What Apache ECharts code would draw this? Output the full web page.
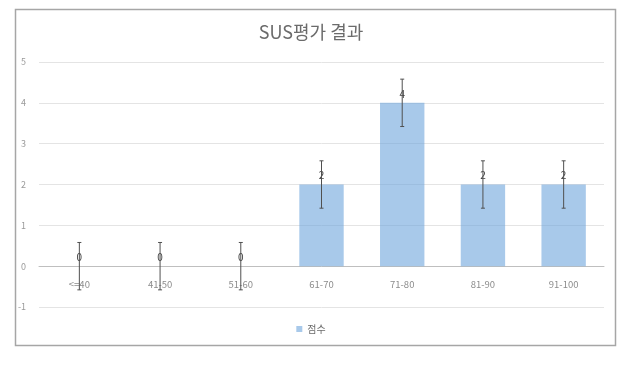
<!DOCTYPE html>
<html><head><meta charset="utf-8">
<script src="https://cdn.jsdelivr.net/npm/echarts@6/dist/echarts.min.js"></script>
<style>html,body{margin:0;padding:0;background:#fff}#c{width:622px;height:366px}</style>
</head><body><div id="c"></div>
<script>
const categories = ['<=40', '41-50', '51-60', '61-70', '71-80', '81-90', '91-100'];
const scores = [0, 0, 0, 2, 4, 2, 2];
const errorAmounts = [0.58, 0.58, 0.58, 0.58, 0.58, 0.58, 0.58];
const yTicks = { min: -1, max: 5, interval: 1 };
const seriesName = '점수';
const titleText = 'SUS평가 결과';

const font = '"Noto Sans CJK KR", "Noto Sans", sans-serif';
const chart = echarts.init(document.getElementById('c'), null, { renderer: 'canvas' });
const errData = scores.map((v, i) => [i, v - errorAmounts[i], v + errorAmounts[i]]);

const gridTop = 62, gridBottom = 59, H = 366;
const gridH = H - gridTop - gridBottom;
const zeroOffset = -gridH * (0 - yTicks.min) / (yTicks.max - yTicks.min);

chart.setOption({
  animation: false,
  backgroundColor: '#fff',
  title: {
    text: titleText, left: 'center', top: 18,
    textStyle: { fontFamily: font, fontSize: 18, fontWeight: 'normal', color: '#6b6b6b' }
  },
  graphic: [{
    type: 'rect', left: 13, top: 7, z: -1,
    shape: { width: 600, height: 336 },
    style: { fill: 'none', stroke: '#a6a6a6', lineWidth: 1.5 }
  }],
  legend: {
    data: [seriesName], bottom: 27, left: 'center', icon: 'rect', itemWidth: 6, itemHeight: 6, itemGap: 4,
    textStyle: { fontFamily: font, fontSize: 10, color: '#6b6b6b' }
  },
  grid: { left: 39, right: 18, top: gridTop, bottom: gridBottom },
  xAxis: {
    type: 'category', data: categories, offset: zeroOffset,
    axisLine: { onZero: false, lineStyle: { color: '#bfbfbf', width: 1 } },
    axisTick: { show: false },
    axisLabel: { fontFamily: font, fontSize: 9.5, color: '#8c8c8c', margin: 13 }
  },
  yAxis: {
    type: 'value', min: yTicks.min, max: yTicks.max, interval: yTicks.interval,
    axisLine: { show: false }, axisTick: { show: false },
    axisLabel: { fontFamily: font, fontSize: 9, color: '#9a9a9a', margin: 13 },
    splitLine: { lineStyle: { color: '#e4e4e4', width: 1 } }
  },
  series: [{
    name: seriesName, type: 'bar', data: scores, barWidth: '55%',
    itemStyle: { color: 'rgba(110,165,220,0.6)' },
    label: { show: true, position: 'top', distance: 4, fontFamily: font, fontSize: 10, color: '#404040' },
    z: 2
  }, {
    name: 'err', type: 'custom', data: errData, z: 5,
    renderItem: function (params, api) {
      const x = api.value(0);
      const lo = api.coord([x, api.value(1)]);
      const hi = api.coord([x, api.value(2)]);
      const cap = 2;
      const st = { stroke: '#505050', lineWidth: 1 };
      return { type: 'group', children: [
        { type: 'line', shape: { x1: lo[0], y1: lo[1], x2: hi[0], y2: hi[1] }, style: st },
        { type: 'line', shape: { x1: lo[0]-cap, y1: lo[1], x2: lo[0]+cap, y2: lo[1] }, style: st },
        { type: 'line', shape: { x1: hi[0]-cap, y1: hi[1], x2: hi[0]+cap, y2: hi[1] }, style: st }
      ]};
    }
  }]
});
</script></body></html>
